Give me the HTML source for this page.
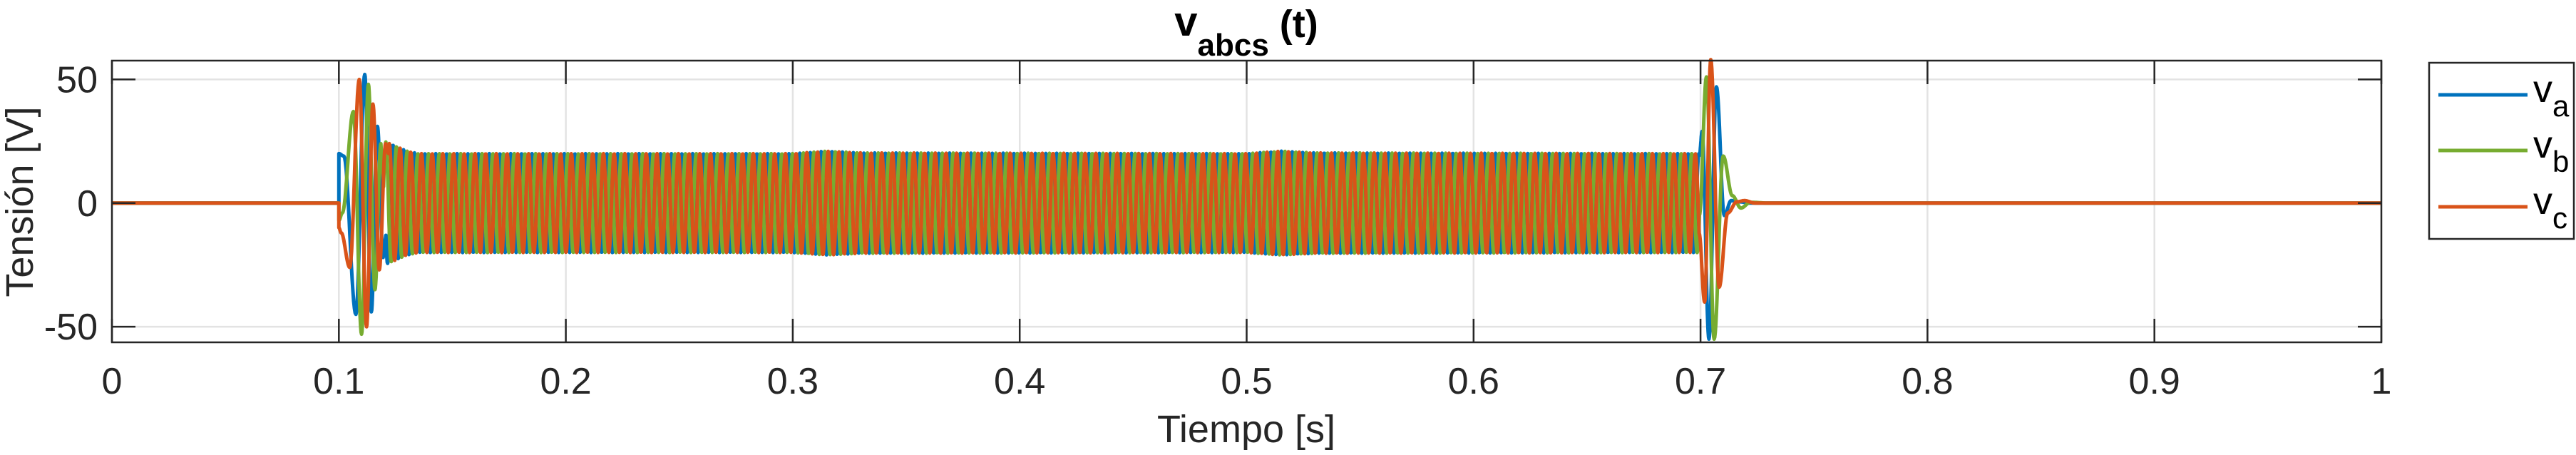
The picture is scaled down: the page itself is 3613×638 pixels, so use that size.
<!DOCTYPE html>
<html><head><meta charset="utf-8"><style>
html,body{margin:0;padding:0;background:#fff;}
svg{display:block;font-family:"Liberation Sans",Arial,sans-serif;}
</style></head><body>
<svg id="chart" width="3613" height="638" viewBox="0 0 3613 638">
<rect x="0" y="0" width="3613" height="638" fill="#fff"/>
<g id="grid"></g>
<g id="series"></g>
<g id="axes"></g>
<text x="1748" y="50" text-anchor="middle" font-weight="bold" fill="#000"><tspan font-size="58">v</tspan><tspan font-size="44" dy="28">abcs</tspan><tspan font-size="54" dy="-26"> (t)</tspan></text>
<text x="1748" y="620" text-anchor="middle" font-size="54" fill="#262626">Tiempo [s]</text>
<text transform="translate(46,283) rotate(-90)" text-anchor="middle" font-size="54" fill="#262626">Tensión [V]</text>
<g>
<rect x="3407" y="88" width="203" height="247" fill="#fff" stroke="#262626" stroke-width="2.5"/>
<line x1="3420" y1="133" x2="3545" y2="133" stroke="#0072BD" stroke-width="5"/>
<text x="3553" y="143" font-size="54" fill="#000">v<tspan font-size="42" dy="20">a</tspan></text>
<line x1="3420" y1="211" x2="3545" y2="211" stroke="#77AC30" stroke-width="5"/>
<text x="3553" y="221" font-size="54" fill="#000">v<tspan font-size="42" dy="20">b</tspan></text>
<line x1="3420" y1="290" x2="3545" y2="290" stroke="#D95319" stroke-width="5"/>
<text x="3553" y="300" font-size="54" fill="#000">v<tspan font-size="42" dy="20">c</tspan></text>
</g>
</svg>
<script>
// ---- data ----
const xTicks = [0,0.1,0.2,0.3,0.4,0.5,0.6,0.7,0.8,0.9,1];
const xTickLabels = ["0","0.1","0.2","0.3","0.4","0.5","0.6","0.7","0.8","0.9","1"];
const yTicks = [-50,0,50];
const yTickLabels = ["-50","0","50"];
const seriesNames = ["va","vb","vc"];
const seriesColors = ["#0072BD","#77AC30","#D95319"];
// transient at start (time, value)
const startT_a = [0,0.1,0.1,0.1022,0.1075,0.1114,0.1143,0.117,0.1195];
const startV_a = [0,0,20,19,-45,52,-44,31,-22];
const startT_b = [0,0.1,0.1,0.1015,0.1064,0.110,0.113,0.1159,0.1185];
const startV_b = [0,0,-7,-4,37,-53,48,-35,24];
const startT_c = [0,0.1,0.1,0.101,0.1048,0.109,0.1122,0.115,0.1178,0.1206];
const startV_c = [0,0,-10,-12,-26,50,-50,40,-27,24];
// steady oscillation
const freqHz = 212;
const phaseDeg = [0,-120,120];
const envT = [0.12,0.125,0.13,0.135,0.3,0.315,0.33,0.5,0.515,0.53,0.699];
const envA = [25,23,21,20,20,21,20.3,20,21,20.3,20];
// transient at end (time, value)
const endT_a = [0.7007,0.7037,0.707,0.7105,0.7135,0.717,0.722,0.73,0.8,1];
const endV_a = [29,-55,47,-5,1,0.5,0,0,0,0];
const endT_b = [0.7026,0.706,0.710,0.714,0.7178,0.722,0.73,0.8,1];
const endV_b = [51,-55,19,3,-2,0.3,0,0,0];
const endT_c = [0.7018,0.7045,0.7082,0.712,0.7160,0.7194,0.724,0.8,1];
const endV_c = [-40,58,-34,-4,0.5,1,0,0,0];

// ---- axes ----
const L=157,R=3340,T=85,B=480;
const yMin=-56.3, yMax=57.6;
const X=t=>L+(t-0)/(1-0)*(R-L);
const Y=v=>B-(v-yMin)/(yMax-yMin)*(B-T);
const NS="http://www.w3.org/2000/svg";
function mk(tag,attrs,parent){const e=document.createElementNS(NS,tag);for(const k in attrs)e.setAttribute(k,attrs[k]);parent.appendChild(e);return e;}
const grid=document.getElementById('grid'),axes=document.getElementById('axes'),ser=document.getElementById('series');

xTicks.forEach((t,i)=>{
  if(i>0&&i<xTicks.length-1){
    const g=mk('line',{x1:X(t),y1:T,x2:X(t),y2:B,stroke:'#e3e3e3','stroke-width':2.5},grid);
    
    
  }
  const a=mk('line',{x1:X(t),y1:B,x2:X(t),y2:B-33,stroke:'#262626','stroke-width':2.5},axes);
  
  
  const b=mk('line',{x1:X(t),y1:T,x2:X(t),y2:T+33,stroke:'#262626','stroke-width':2.5},axes);
  
  
  const tx=mk('text',{x:X(t),y:552,'text-anchor':'middle','font-size':52,fill:'#262626'},axes);
  tx.textContent=xTickLabels[i];
  
  
});
yTicks.forEach((v,i)=>{
  if(v!==0){
    const g=mk('line',{x1:L,y1:Y(v),x2:R,y2:Y(v),stroke:'#e3e3e3','stroke-width':2.5},grid);
    
    
  }
  const a=mk('line',{x1:L,y1:Y(v),x2:L+33,y2:Y(v),stroke:'#262626','stroke-width':2.5},axes);
  
  
  const b=mk('line',{x1:R,y1:Y(v),x2:R-33,y2:Y(v),stroke:'#262626','stroke-width':2.5},axes);
  
  
  const tx=mk('text',{x:137,y:Y(v)+18,'text-anchor':'end','font-size':52,fill:'#262626'},axes);
  tx.textContent=yTickLabels[i];
  
  
});
const frame=mk('rect',{x:L,y:T,width:R-L,height:B-T,fill:'none',stroke:'#262626','stroke-width':2.5},axes);



function env(t){
  if(t<=envT[0])return envA[0];
  for(let i=1;i<envT.length;i++){if(t<=envT[i]){const f=(t-envT[i-1])/(envT[i]-envT[i-1]);return envA[i-1]+f*(envA[i]-envA[i-1]);}}
  return envA[envA.length-1];
}
// smooth interpolation (cosine-eased between extrema) across points; vertical jumps kept straight
function smooth(ts,vs){
  const out=[];
  for(let i=0;i<ts.length;i++){
    if(i===0){out.push([ts[0],vs[0]]);continue;}
    const t0=ts[i-1],t1=ts[i],v0=vs[i-1],v1=vs[i];
    if(t1-t0<=0||t1-t0>0.02){out.push([t1,v1]);continue;}
    const n=16;
    for(let j=1;j<=n;j++){const f=j/n;const e=(1-Math.cos(Math.PI*f))/2;out.push([t0+f*(t1-t0),v0+e*(v1-v0)]);}
  }
  return out;
}
const starts=[[startT_a,startV_a],[startT_b,startV_b],[startT_c,startV_c]];
const ends=[[endT_a,endV_a],[endT_b,endV_b],[endT_c,endV_c]];
seriesNames.forEach((n,k)=>{
  const st=starts[k], en=ends[k];
  const t0=st[0][st[0].length-1]+0.0012, t1=0.6995;
  const sT=[], sV=[];
  for(let t=t0;t<=t1;t+=0.0002){sT.push(t);sV.push(env(t)*Math.sin(2*Math.PI*freqHz*t+phaseDeg[k]*Math.PI/180));}
  const pts=smooth(st[0],st[1]);
  for(let i=0;i<sT.length;i++)pts.push([sT[i],sV[i]]);
  const tail=smooth([sT[sT.length-1]].concat(en[0]),[sV[sV.length-1]].concat(en[1]));
  for(let i=1;i<tail.length;i++)pts.push(tail[i]);
  const d='M'+pts.map(p=>X(p[0]).toFixed(1)+','+Y(p[1]).toFixed(1)).join('L');
  const path=mk('path',{d:d,fill:'none',stroke:seriesColors[k],'stroke-width':5,'stroke-linejoin':'round'},ser);
  
  
});
</script>
</body></html>
